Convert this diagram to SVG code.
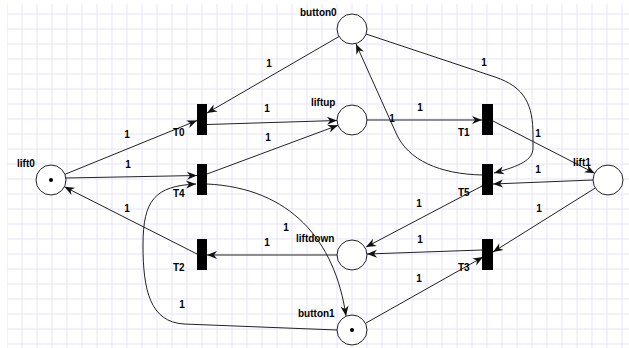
<svg xmlns="http://www.w3.org/2000/svg" width="629" height="348" viewBox="0 0 629 348">
<style>
  text { font-family: "Liberation Sans", Arial, Helvetica, sans-serif; font-size: 10px; font-weight: bold; fill: #000; }
  .w { text-anchor: middle; }
  .place { fill: #fff; stroke: #222; stroke-width: 1; }
  .tok { fill: #000; }
  .bar { fill: #000; }
  .edge { fill: none; stroke: #222; stroke-width: 1; marker-end: url(#arr); }
</style>
<defs>
  <pattern id="grid" patternUnits="userSpaceOnUse" x="6.5" y="13.5" width="15" height="15">
    <path d="M0.5,0 V15 M0,0.5 H15" fill="none" stroke="#e6e4f9" stroke-width="1"/>
  </pattern>
  <marker id="arr" viewBox="-11 -5 12 10" refX="0" refY="0" markerWidth="12" markerHeight="10" orient="auto" markerUnits="userSpaceOnUse">
    <path d="M0,0 L-10,-4 L-7,0 L-10,4 Z" fill="#111"/>
  </marker>
</defs>
<rect x="0" y="0" width="629" height="348" fill="#fff"/>
<rect x="7" y="4" width="622" height="344" fill="url(#grid)"/>

<g id="connectors">
  <path class="edge" d="M65,174.3 L197,120.5"/>
  <path class="edge" d="M66,178 L197,175.5"/>
  <path class="edge" d="M197,254 L64.4,186.8"/>
  <path class="edge" d="M339,36.5 L207,113"/>
  <path class="edge" d="M207,124.5 L337,120.5"/>
  <path class="edge" d="M207,174 L338,125.3"/>
  <path class="edge" d="M367,120 L482,120"/>
  <path class="edge" d="M493,121 L594.7,173.2"/>
  <path class="edge" d="M366,34 L495,77 C525,87 533,105 533,135 L533,148 C533,160 520,166 494,173"/>
  <path class="edge" d="M482,175 C440,174 408,160.5 396,133 L356,44"/>
  <path class="edge" d="M593,180 L493,184"/>
  <path class="edge" d="M595.3,188 L493,252"/>
  <path class="edge" d="M482,186 L366,247"/>
  <path class="edge" d="M482,250 L367,254"/>
  <path class="edge" d="M337,255 L207,255"/>
  <path class="edge" d="M366,323 L483,257"/>
  <path class="edge" d="M207,184 C290,188 335,240 346,316"/>
  <path class="edge" d="M337,330 L184,324 C150,322 143,290 143,245 C143,200 155,186 196,184"/>
</g>

<g id="weights">
  <text class="w" x="269" y="66.5">1</text>
  <text class="w" x="267" y="111.5">1</text>
  <text class="w" x="127" y="137.5">1</text>
  <text class="w" x="268" y="140.5">1</text>
  <text class="w" x="128" y="167.5">1</text>
  <text class="w" x="484" y="65.5">1</text>
  <text class="w" x="420" y="110.5">1</text>
  <text class="w" x="392" y="122">1</text>
  <text class="w" x="538" y="136.5">1</text>
  <text class="w" x="538" y="172.5">1</text>
  <text class="w" x="127" y="211.5">1</text>
  <text class="w" x="286" y="230.5">1</text>
  <text class="w" x="267" y="245.5">1</text>
  <text class="w" x="182" y="307.5">1</text>
  <text class="w" x="419" y="206.5">1</text>
  <text class="w" x="539" y="211.5">1</text>
  <text class="w" x="420" y="242.5">1</text>
  <text class="w" x="419" y="281.5">1</text>
</g>

<g id="lift0"><circle class="place" cx="51" cy="180" r="15"/><circle class="tok" cx="51" cy="180" r="2"/><text x="17" y="166.5">lift0</text></g>
<g id="button0"><circle class="place" cx="352" cy="29" r="15"/><text x="300" y="15.5">button0</text></g>
<g id="liftup"><circle class="place" cx="352" cy="120" r="15"/><text x="311" y="105.5">liftup</text></g>
<g id="liftdown"><circle class="place" cx="352" cy="255" r="15"/><text x="296" y="241.5">liftdown</text></g>
<g id="button1"><circle class="place" cx="352" cy="330" r="15"/><circle class="tok" cx="352" cy="330" r="2"/><text x="298" y="316.5">button1</text></g>
<g id="lift1"><circle class="place" cx="608" cy="180" r="15"/><text x="573" y="165.5">lift1</text></g>

<g id="T0"><rect class="bar" x="197" y="104" width="10" height="31"/><text x="173" y="135.5">T0</text></g>
<g id="T4"><rect class="bar" x="197" y="164" width="10" height="31"/><text x="173" y="196.5">T4</text></g>
<g id="T2"><rect class="bar" x="197" y="239" width="10" height="31"/><text x="173" y="270.5">T2</text></g>
<g id="T1"><rect class="bar" x="482" y="104" width="11" height="31"/><text x="458" y="135.5">T1</text></g>
<g id="T5"><rect class="bar" x="482" y="164" width="11" height="31"/><text x="458" y="195.5">T5</text></g>
<g id="T3"><rect class="bar" x="482" y="239" width="11" height="31"/><text x="458" y="270.5">T3</text></g>
</svg>
